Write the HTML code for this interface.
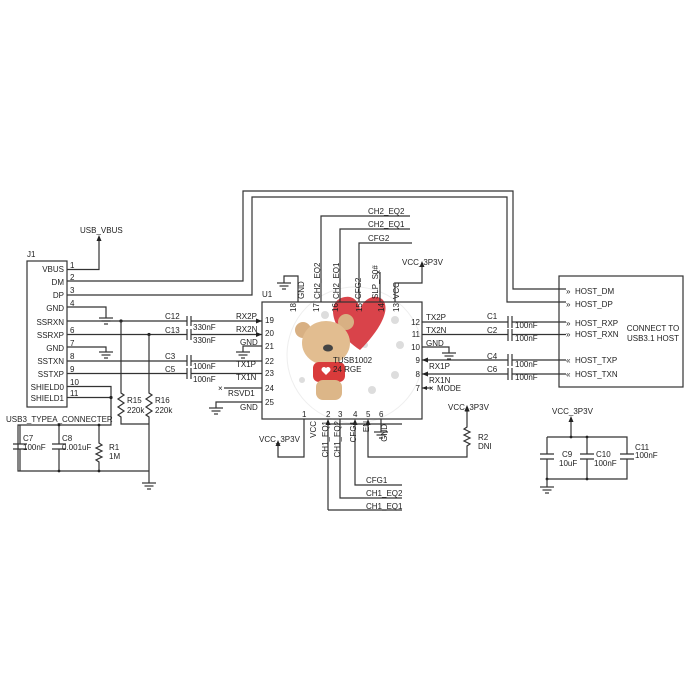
<!DOCTYPE html>
<html><head><meta charset="utf-8"><style>
html,body{margin:0;padding:0;background:#fff}
svg{display:block}
text{font-family:"Liberation Sans",Arial,sans-serif;font-size:8px;fill:#222}
.l{stroke:#333;stroke-width:1.2;fill:none}
</style></head><body>
<svg width="700" height="700" viewBox="0 0 700 700" xmlns="http://www.w3.org/2000/svg">
<defs>
<g id="gnd"><line x1="-7" y1="0" x2="7" y2="0" class="l"/><line x1="-4.5" y1="3" x2="4.5" y2="3" class="l"/><line x1="-2" y1="6" x2="2" y2="6" class="l"/></g>
<g id="up"><polygon points="0,-5 -2.5,1 2.5,1" fill="#222"/></g>
</defs>

<!-- J1 -->
<text x="27" y="257">J1</text>
<rect x="27" y="261" width="40" height="146" class="l"/>
<g text-anchor="end">
<text x="64" y="272">VBUS</text><text x="64" y="285">DM</text><text x="64" y="298">DP</text>
<text x="64" y="311">GND</text><text x="64" y="325">SSRXN</text><text x="64" y="338">SSRXP</text>
<text x="64" y="351">GND</text><text x="64" y="364">SSTXN</text><text x="64" y="377">SSTXP</text>
<text x="64" y="390">SHIELD0</text><text x="64" y="401">SHIELD1</text>
</g>
<g font-size="7"><text x="70" y="268">1</text><text x="70" y="280">2</text><text x="70" y="293">3</text><text x="70" y="306">4</text><text x="70" y="333">6</text><text x="70" y="346">7</text><text x="70" y="359">8</text><text x="70" y="372">9</text><text x="70" y="385">10</text><text x="70" y="396">11</text></g>
<text x="6" y="422">USB3_TYPEA_CONNECTER</text>

<!-- VBUS -->
<path class="l" d="M67 269.5H99V240"/><use href="#up" x="99" y="240"/>
<text x="80" y="233">USB_VBUS</text>
<!-- DM/DP long routes -->
<path class="l" d="M67 281H243V191H513V289H566"/>
<path class="l" d="M67 295H252V197H507V302H566"/>
<!-- GND pins -->
<path class="l" d="M67 307H106V318"/><use href="#gnd" x="106" y="318"/>
<path class="l" d="M67 347H106V352"/><use href="#gnd" x="106" y="352"/>
<!-- SS lines -->
<path class="l" d="M67 321H187M191 321H262"/>
<path class="l" d="M67 334.5H187M191 334.5H262"/>
<path class="l" d="M67 361H187M191 361H262"/>
<path class="l" d="M67 373.5H187M191 373.5H262"/>
<g class="l"><line x1="187" y1="316" x2="187" y2="326"/><line x1="191" y1="316" x2="191" y2="326"/>
<line x1="187" y1="329" x2="187" y2="340"/><line x1="191" y1="329" x2="191" y2="340"/>
<line x1="187" y1="355" x2="187" y2="366"/><line x1="191" y1="355" x2="191" y2="366"/>
<line x1="187" y1="368" x2="187" y2="379"/><line x1="191" y1="368" x2="191" y2="379"/></g>
<text x="165" y="319">C12</text><text x="193" y="330">330nF</text>
<text x="165" y="333">C13</text><text x="193" y="343">330nF</text>
<text x="165" y="359">C3</text><text x="193" y="369">100nF</text>
<text x="165" y="372">C5</text><text x="193" y="382">100nF</text>
<polygon points="262,321 256,318.5 256,323.5" fill="#222"/>
<polygon points="262,334.5 256,332 256,337" fill="#222"/>
<!-- R15 R16 -->
<circle cx="121" cy="321" r="1.6" fill="#222"/><circle cx="149" cy="334.5" r="1.6" fill="#222"/>
<path class="l" d="M121 321V393l3 2-6 4 6 4-6 4 6 4-6 4 3 2V424H149"/>
<path class="l" d="M149 334.5V393l3 2-6 4 6 4-6 4 6 4-6 4 3 2V483"/>
<use href="#gnd" x="149" y="483"/>
<text x="127" y="403">R15</text><text x="127" y="413">220k</text>
<text x="155" y="403">R16</text><text x="155" y="413">220k</text>
<!-- shield -->
<path class="l" d="M67 386.5H111V425H18V471H149"/>
<path class="l" d="M67 397.5H111"/><circle cx="111" cy="397.5" r="1.6" fill="#222"/>
<path class="l" d="M20 425V444M20 449V471M13 444H27M13 449H27"/>
<path class="l" d="M59 425V444M59 449V471M52 444H66M52 449H66"/>
<path class="l" d="M99 425V443l3 2-6 3 6 3-6 3 6 3-6 3 3 2V471"/>
<circle cx="59" cy="425" r="1.4" fill="#222"/><circle cx="99" cy="425" r="1.4" fill="#222"/>
<circle cx="59" cy="471" r="1.4" fill="#222"/><circle cx="99" cy="471" r="1.4" fill="#222"/>
<text x="23" y="441">C7</text><text x="23" y="450" font-size="6.5">100nF</text>
<text x="62" y="441">C8</text><text x="62" y="450" font-size="6.5">0.001uF</text>
<text x="109" y="450">R1</text><text x="109" y="459">1M</text>

<!-- bear decoration -->
<circle cx="355" cy="355" r="68" fill="none" stroke="#eee" stroke-width="1"/>
<g fill="#ddd"><circle cx="325" cy="315" r="4"/><circle cx="395" cy="320" r="4"/><circle cx="400" cy="345" r="4"/><circle cx="395" cy="375" r="4"/><circle cx="372" cy="390" r="4"/><circle cx="302" cy="380" r="3"/><circle cx="365" cy="345" r="3"/></g>
<path d="M360 350 C330 330,325 300,345 297 C355 295,360 305,360 310 C362 300,375 292,383 300 C392 312,375 335,360 350Z" fill="#d9434a"/>
<circle cx="303" cy="330" r="8" fill="#d8b083"/><circle cx="346" cy="322" r="8" fill="#d8b083"/>
<ellipse cx="326" cy="343" rx="24" ry="22" fill="#e2bd90"/>
<ellipse cx="328" cy="348" rx="5" ry="3.5" fill="#444"/>
<rect x="313" y="362" width="32" height="20" rx="6" fill="#d93b3b"/>
<path d="M326 375 l-4-4 a2.5 2.5 0 0 1 4-3 a2.5 2.5 0 0 1 4 3z" fill="#fff"/>
<rect x="316" y="380" width="26" height="20" rx="7" fill="#dcb688"/>
<text x="333" y="363" fill="#aaa" font-size="8">TUSB1002</text>
<text x="333" y="372" fill="#aaa" font-size="8">24 RGE</text>

<!-- U1 -->
<text x="262" y="297">U1</text>
<rect x="262" y="302" width="160" height="117" class="l"/>
<g font-size="8">
<text x="265" y="323">19</text><text x="265" y="336">20</text><text x="265" y="349">21</text><text x="265" y="364">22</text><text x="265" y="376">23</text><text x="265" y="391">24</text><text x="265" y="405">25</text>
</g>
<text x="236" y="319">RX2P</text><text x="236" y="332">RX2N</text><text x="240" y="345">GND</text>
<text x="236" y="367">TX1P</text><text x="236" y="380">TX1N</text><text x="228" y="396">RSVD1</text><text x="240" y="410">GND</text>
<path class="l" d="M262 346H243V352"/><use href="#gnd" x="243" y="352"/>
<path class="l" d="M262 388H224"/><text x="218" y="391" font-size="9">×</text>
<path class="l" d="M262 402H216V408"/><use href="#gnd" x="216" y="408"/>

<!-- right pins -->
<g font-size="8" text-anchor="end"><text x="420" y="325">12</text><text x="420" y="337">11</text><text x="420" y="350">10</text><text x="420" y="363">9</text><text x="420" y="377">8</text><text x="420" y="391">7</text></g>
<text x="426" y="320">TX2P</text><text x="426" y="333">TX2N</text><text x="426" y="346">GND</text>
<text x="429" y="369">RX1P</text><text x="429" y="383">RX1N</text><text x="437" y="391">MODE</text>
<path class="l" d="M422 322H508M512 322H566"/>
<path class="l" d="M422 334.5H508M512 334.5H566"/>
<path class="l" d="M422 347H449V353"/><use href="#gnd" x="449" y="353"/>
<path class="l" d="M422 360H508M512 360H566"/>
<path class="l" d="M422 374H508M512 374H566"/>
<polygon points="422,360 428,357.5 428,362.5" fill="#222"/><polygon points="422,374 428,371.5 428,376.5" fill="#222"/>
<path class="l" d="M422 388H432"/><polygon points="422,388 427,386 427,390" fill="#222"/><text x="429" y="391" font-size="8">×</text>
<g class="l"><line x1="508" y1="316" x2="508" y2="328"/><line x1="512" y1="316" x2="512" y2="328"/>
<line x1="508" y1="329" x2="508" y2="341"/><line x1="512" y1="329" x2="512" y2="341"/>
<line x1="508" y1="354" x2="508" y2="366"/><line x1="512" y1="354" x2="512" y2="366"/>
<line x1="508" y1="368" x2="508" y2="380"/><line x1="512" y1="368" x2="512" y2="380"/></g>
<text x="487" y="319">C1</text><text x="515" y="328">100nF</text>
<text x="487" y="333">C2</text><text x="515" y="341">100nF</text>
<text x="487" y="359">C4</text><text x="515" y="367">100nF</text>
<text x="487" y="372">C6</text><text x="515" y="380">100nF</text>

<!-- host box -->
<rect x="559" y="276" width="124" height="111" class="l"/>
<g font-size="8"><text x="566" y="294">»</text><text x="566" y="307">»</text><text x="566" y="326">»</text><text x="566" y="337">»</text><text x="566" y="363">«</text><text x="566" y="377">«</text></g>
<text x="575" y="294">HOST_DM</text><text x="575" y="307">HOST_DP</text>
<text x="575" y="326">HOST_RXP</text><text x="575" y="337">HOST_RXN</text>
<text x="575" y="363">HOST_TXP</text><text x="575" y="377">HOST_TXN</text>
<text x="653" y="331" text-anchor="middle">CONNECT TO</text>
<text x="653" y="341" text-anchor="middle">USB3.1 HOST</text>

<!-- top pins -->
<g font-size="7" fill="#999"><text x="296" y="312" transform="rotate(-90 296 312)">18</text><text x="319" y="312" transform="rotate(-90 319 312)">17</text><text x="338" y="312" transform="rotate(-90 338 312)">16</text><text x="362" y="312" transform="rotate(-90 362 312)">15</text><text x="384" y="312" transform="rotate(-90 384 312)">14</text><text x="399" y="312" transform="rotate(-90 399 312)">13</text></g>
<g font-size="8">
<text x="304" y="299" transform="rotate(-90 304 299)">GND</text>
<text x="320" y="299" transform="rotate(-90 320 299)">CH2_EQ2</text>
<text x="339" y="299" transform="rotate(-90 339 299)">CH2_EQ1</text>
<text x="361" y="299" transform="rotate(-90 361 299)">CFG2</text>
<text x="378" y="299" transform="rotate(-90 378 299)">SLP_S0#</text>
<text x="399" y="299" transform="rotate(-90 399 299)">VCC</text>
</g>
<path class="l" d="M298 302V276H284V283"/><use href="#gnd" x="284" y="283"/>
<path class="l" d="M321 302V216H410"/><text x="368" y="214">CH2_EQ2</text>
<path class="l" d="M340 302V229H410"/><text x="368" y="227">CH2_EQ1</text>
<path class="l" d="M359 302V243H412"/><text x="368" y="241">CFG2</text>
<path class="l" d="M380 302V272"/><text x="376" y="275" font-size="9">×</text>
<path class="l" d="M395 302V283H422V266"/><use href="#up" x="422" y="266"/><text x="402" y="265">VCC_3P3V</text>

<!-- bottom pins -->
<g font-size="7" fill="#999"><text x="302" y="417">1</text><text x="326" y="417">2</text><text x="338" y="417">3</text><text x="353" y="417">4</text><text x="366" y="417">5</text><text x="379" y="417">6</text></g>
<g font-size="8">
<text x="316" y="421" transform="rotate(-90 316 421)" text-anchor="end">VCC</text>
<text x="328" y="421" transform="rotate(-90 328 421)" text-anchor="end">CH1_EQ1</text>
<text x="340" y="421" transform="rotate(-90 340 421)" text-anchor="end">CH1_EQ2</text>
<text x="356" y="421" transform="rotate(-90 356 421)" text-anchor="end">CFG1</text>
<text x="369" y="421" transform="rotate(-90 369 421)" text-anchor="end">EN</text>
<text x="387" y="424" transform="rotate(-90 387 424)" text-anchor="end">GND</text>
</g>
<path class="l" d="M304 419V457H278V445"/><use href="#up" x="278" y="445"/><text x="259" y="442">VCC_3P3V</text>
<path class="l" d="M328 510V424H402"/><path class="l" d="M328 510H402"/>
<polygon points="328,419 325.5,425 330.5,425" fill="#222"/>
<path class="l" d="M340 419V498H402"/>
<path class="l" d="M355 424V485H402"/><polygon points="355,419 352.5,425 357.5,425" fill="#222"/>
<path class="l" d="M368 424V457H467V446l3-2-6-3 6-3-6-3 6-3-6-3 3-2V410"/><polygon points="368,419 365.5,425 370.5,425" fill="#222"/>
<use href="#up" x="467" y="410"/><text x="448" y="410">VCC_3P3V</text>
<text x="478" y="440">R2</text><text x="478" y="449">DNI</text>
<path class="l" d="M381 419V432"/><use href="#gnd" x="381" y="432"/>
<text x="366" y="483">CFG1</text><text x="366" y="496">CH1_EQ2</text><text x="366" y="509">CH1_EQ1</text>

<!-- C9-C11 -->
<text x="552" y="414">VCC_3P3V</text>
<path class="l" d="M571 437V421"/><use href="#up" x="571" y="421"/>
<path class="l" d="M547 437H627V454M627 459V479H547V459M547 454V437"/>
<path class="l" d="M587 437V454M587 459V479"/>
<path class="l" d="M540 454H554M540 459H554M580 454H594M580 459H594M620 454H634M620 459H634"/>
<circle cx="571" cy="437" r="1.4" fill="#222"/><circle cx="587" cy="437" r="1.4" fill="#222"/><circle cx="587" cy="479" r="1.4" fill="#222"/><circle cx="547" cy="479" r="1.4" fill="#222"/>
<path class="l" d="M547 479V487"/><use href="#gnd" x="547" y="487"/>
<text x="562" y="457">C9</text><text x="559" y="466">10uF</text>
<text x="596" y="457">C10</text><text x="594" y="466">100nF</text>
<text x="635" y="450">C11</text><text x="635" y="458">100nF</text>
</svg>
</body></html>
